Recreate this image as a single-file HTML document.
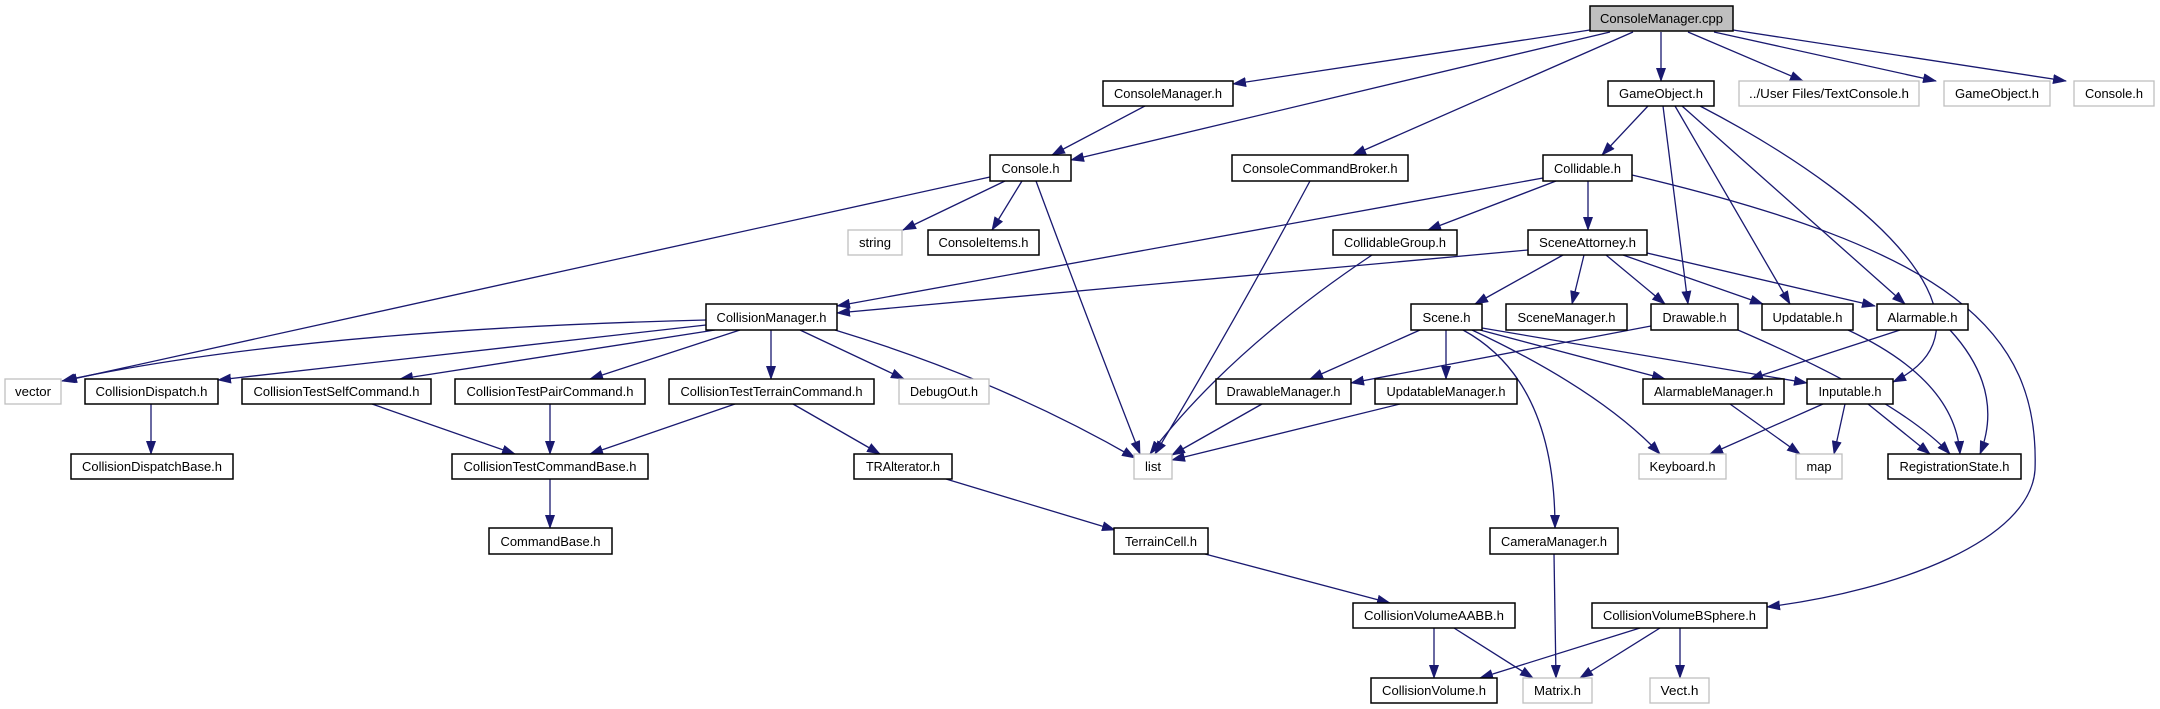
<!DOCTYPE html>
<html><head><meta charset="utf-8"><style>html,body{margin:0;padding:0;background:#fff}svg{display:block}</style></head>
<body>
<svg width="2160" height="709" viewBox="0 0 2160 709" xmlns="http://www.w3.org/2000/svg">
<defs>
<marker id="a" markerUnits="userSpaceOnUse" markerWidth="14" markerHeight="10" refX="13" refY="5" orient="auto">
<path d="M0,0 L14,5 L0,10 Z" fill="#191970"/>
</marker>
</defs>
<g fill="none" stroke="#191970" stroke-width="1.3" marker-end="url(#a)">
<path d="M1590,30 L1233,84"/>
<path d="M1610,32 L1071,160"/>
<path d="M1633,32 L1353,155"/>
<path d="M1661,32 L1661,81"/>
<path d="M1688,32 L1803,81"/>
<path d="M1714,32 L1936,81"/>
<path d="M1733,30 L2066,81"/>
<path d="M1145,106 L1052,155"/>
<path d="M990,177 L64,381"/>
<path d="M1005,181 L903,230"/>
<path d="M1022,181 L992,230"/>
<path d="M1036,181 Q1080,300 1140,454"/>
<path d="M1310,181 Q1230,330 1155,454"/>
<path d="M1648,106 L1602,155"/>
<path d="M1663,106 L1688,304"/>
<path d="M1675,106 L1790,304"/>
<path d="M1682,106 L1905,304"/>
<path d="M1700,106 C1900,210 2000,330 1893,382"/>
<path d="M1543,178 L837,306"/>
<path d="M1556,181 L1428,230"/>
<path d="M1588,181 L1588,230"/>
<path d="M1632,175 C1950,250 2040,330 2035,470 C2030,540 1900,590 1767,607"/>
<path d="M1372,255 Q1230,350 1150,454"/>
<path d="M1528,250 L837,313"/>
<path d="M1563,255 L1475,304"/>
<path d="M1584,255 L1572,304"/>
<path d="M1606,255 L1665,304"/>
<path d="M1623,255 L1763,304"/>
<path d="M1647,253 L1875,306"/>
<path d="M1420,330 L1310,379"/>
<path d="M1446,330 L1446,379"/>
<path d="M1472,330 Q1600,390 1660,454"/>
<path d="M1463,330 Q1555,380 1555,528"/>
<path d="M1480,330 L1665,379"/>
<path d="M1482,328 L1807,383"/>
<path d="M1651,326 L1351,383"/>
<path d="M1738,330 Q1900,400 1950,454"/>
<path d="M1848,330 Q1955,380 1960,454"/>
<path d="M1900,330 L1750,379"/>
<path d="M1950,330 Q2005,390 1980,454"/>
<path d="M1262,404 L1172,455"/>
<path d="M1400,404 L1172,460"/>
<path d="M1730,404 L1800,454"/>
<path d="M1823,404 L1710,454"/>
<path d="M1845,404 L1834,454"/>
<path d="M1868,404 L1930,454"/>
<path d="M706,320 Q300,330 62,381"/>
<path d="M706,325 L218,380"/>
<path d="M715,330 L400,379"/>
<path d="M740,330 L590,379"/>
<path d="M771,330 L771,379"/>
<path d="M800,330 L904,379"/>
<path d="M835,330 Q1000,380 1135,458"/>
<path d="M151,404 L151,454"/>
<path d="M372,404 L515,454"/>
<path d="M550,404 L550,454"/>
<path d="M735,404 L590,454"/>
<path d="M793,404 L880,454"/>
<path d="M550,479 L550,528"/>
<path d="M946,479 L1115,530"/>
<path d="M1205,554 L1390,603"/>
<path d="M1554,554 L1556,678"/>
<path d="M1434,628 L1434,678"/>
<path d="M1454,628 L1533,678"/>
<path d="M1640,628 L1480,678"/>
<path d="M1660,628 L1580,678"/>
<path d="M1680,628 L1680,678"/>
</g>
<g font-family="Liberation Sans, sans-serif" font-size="13" text-anchor="middle">
<rect x="1590" y="6" width="143" height="25" fill="#bfbfbf" stroke="#000" stroke-width="1.5"/><text x="1661.5" y="23" textLength="123" lengthAdjust="spacingAndGlyphs">ConsoleManager.cpp</text>
<g fill="#fff" stroke="#000" stroke-width="1.5">
<rect x="1103" y="81" width="130" height="25"/>
<rect x="1608" y="81" width="106" height="25"/>
<rect x="990" y="155" width="81" height="26"/>
<rect x="1232" y="155" width="176" height="26"/>
<rect x="1543" y="155" width="89" height="26"/>
<rect x="928" y="230" width="111" height="25"/>
<rect x="1333" y="230" width="124" height="25"/>
<rect x="1528" y="230" width="119" height="25"/>
<rect x="706" y="304" width="131" height="26"/>
<rect x="1411" y="304" width="71" height="26"/>
<rect x="1506" y="304" width="121" height="26"/>
<rect x="1651" y="304" width="87" height="26"/>
<rect x="1762" y="304" width="91" height="26"/>
<rect x="1877" y="304" width="91" height="26"/>
<rect x="85" y="379" width="133" height="25"/>
<rect x="242" y="379" width="189" height="25"/>
<rect x="455" y="379" width="190" height="25"/>
<rect x="669" y="379" width="205" height="25"/>
<rect x="1216" y="379" width="135" height="25"/>
<rect x="1375" y="379" width="142" height="25"/>
<rect x="1643" y="379" width="141" height="25"/>
<rect x="1807" y="379" width="86" height="25"/>
<rect x="71" y="454" width="162" height="25"/>
<rect x="452" y="454" width="196" height="25"/>
<rect x="854" y="454" width="98" height="25"/>
<rect x="1888" y="454" width="133" height="25"/>
<rect x="489" y="528" width="123" height="26"/>
<rect x="1114" y="528" width="94" height="26"/>
<rect x="1490" y="528" width="128" height="26"/>
<rect x="1353" y="603" width="162" height="25"/>
<rect x="1592" y="603" width="175" height="25"/>
<rect x="1371" y="678" width="126" height="25"/>
</g>
<g fill="#fff" stroke="#bfbfbf" stroke-width="1.3">
<rect x="1739" y="81" width="180" height="25"/>
<rect x="1944" y="81" width="106" height="25"/>
<rect x="2074" y="81" width="80" height="25"/>
<rect x="848" y="230" width="54" height="25"/>
<rect x="5" y="379" width="56" height="25"/>
<rect x="899" y="379" width="90" height="25"/>
<rect x="1134" y="454" width="38" height="25"/>
<rect x="1639" y="454" width="87" height="25"/>
<rect x="1796" y="454" width="46" height="25"/>
<rect x="1523" y="678" width="69" height="25"/>
<rect x="1650" y="678" width="59" height="25"/>
</g>
<g fill="#000" lengthAdjust="spacingAndGlyphs">
<text x="1168" y="98" textLength="108" lengthAdjust="spacingAndGlyphs">ConsoleManager.h</text>
<text x="1661" y="98" textLength="84" lengthAdjust="spacingAndGlyphs">GameObject.h</text>
<text x="1829" y="98" textLength="160" lengthAdjust="spacingAndGlyphs">../User Files/TextConsole.h</text>
<text x="1997" y="98" textLength="84" lengthAdjust="spacingAndGlyphs">GameObject.h</text>
<text x="2114" y="98" textLength="58" lengthAdjust="spacingAndGlyphs">Console.h</text>
<text x="1030.5" y="173" textLength="58" lengthAdjust="spacingAndGlyphs">Console.h</text>
<text x="1320" y="173" textLength="155" lengthAdjust="spacingAndGlyphs">ConsoleCommandBroker.h</text>
<text x="1587.5" y="173" textLength="67" lengthAdjust="spacingAndGlyphs">Collidable.h</text>
<text x="875" y="247" textLength="32" lengthAdjust="spacingAndGlyphs">string</text>
<text x="983.5" y="247" textLength="90" lengthAdjust="spacingAndGlyphs">ConsoleItems.h</text>
<text x="1395" y="247" textLength="102" lengthAdjust="spacingAndGlyphs">CollidableGroup.h</text>
<text x="1587.5" y="247" textLength="97" lengthAdjust="spacingAndGlyphs">SceneAttorney.h</text>
<text x="771.5" y="322" textLength="110" lengthAdjust="spacingAndGlyphs">CollisionManager.h</text>
<text x="1446.5" y="322" textLength="48" lengthAdjust="spacingAndGlyphs">Scene.h</text>
<text x="1566.5" y="322" textLength="98" lengthAdjust="spacingAndGlyphs">SceneManager.h</text>
<text x="1694.5" y="322" textLength="64" lengthAdjust="spacingAndGlyphs">Drawable.h</text>
<text x="1807.5" y="322" textLength="70" lengthAdjust="spacingAndGlyphs">Updatable.h</text>
<text x="1922.5" y="322" textLength="70" lengthAdjust="spacingAndGlyphs">Alarmable.h</text>
<text x="33" y="396" textLength="36" lengthAdjust="spacingAndGlyphs">vector</text>
<text x="151.5" y="396" textLength="112" lengthAdjust="spacingAndGlyphs">CollisionDispatch.h</text>
<text x="336.5" y="396" textLength="166" lengthAdjust="spacingAndGlyphs">CollisionTestSelfCommand.h</text>
<text x="550" y="396" textLength="167" lengthAdjust="spacingAndGlyphs">CollisionTestPairCommand.h</text>
<text x="771.5" y="396" textLength="182" lengthAdjust="spacingAndGlyphs">CollisionTestTerrainCommand.h</text>
<text x="944" y="396" textLength="68" lengthAdjust="spacingAndGlyphs">DebugOut.h</text>
<text x="1283.5" y="396" textLength="114" lengthAdjust="spacingAndGlyphs">DrawableManager.h</text>
<text x="1446" y="396" textLength="119" lengthAdjust="spacingAndGlyphs">UpdatableManager.h</text>
<text x="1713.5" y="396" textLength="119" lengthAdjust="spacingAndGlyphs">AlarmableManager.h</text>
<text x="1850" y="396" textLength="63" lengthAdjust="spacingAndGlyphs">Inputable.h</text>
<text x="152" y="471" textLength="140" lengthAdjust="spacingAndGlyphs">CollisionDispatchBase.h</text>
<text x="550" y="471" textLength="173" lengthAdjust="spacingAndGlyphs">CollisionTestCommandBase.h</text>
<text x="903" y="471" textLength="74" lengthAdjust="spacingAndGlyphs">TRAlterator.h</text>
<text x="1153" y="471" textLength="16" lengthAdjust="spacingAndGlyphs">list</text>
<text x="1682.5" y="471" textLength="66" lengthAdjust="spacingAndGlyphs">Keyboard.h</text>
<text x="1819" y="471" textLength="25" lengthAdjust="spacingAndGlyphs">map</text>
<text x="1954.5" y="471" textLength="110" lengthAdjust="spacingAndGlyphs">RegistrationState.h</text>
<text x="550.5" y="546" textLength="100" lengthAdjust="spacingAndGlyphs">CommandBase.h</text>
<text x="1161" y="546" textLength="72" lengthAdjust="spacingAndGlyphs">TerrainCell.h</text>
<text x="1554" y="546" textLength="106" lengthAdjust="spacingAndGlyphs">CameraManager.h</text>
<text x="1434" y="620" textLength="140" lengthAdjust="spacingAndGlyphs">CollisionVolumeAABB.h</text>
<text x="1679.5" y="620" textLength="153" lengthAdjust="spacingAndGlyphs">CollisionVolumeBSphere.h</text>
<text x="1434" y="695" textLength="104" lengthAdjust="spacingAndGlyphs">CollisionVolume.h</text>
<text x="1557.5" y="695" textLength="47" lengthAdjust="spacingAndGlyphs">Matrix.h</text>
<text x="1679.5" y="695" textLength="38" lengthAdjust="spacingAndGlyphs">Vect.h</text>
</g>
</g>
</svg>
</body></html>
